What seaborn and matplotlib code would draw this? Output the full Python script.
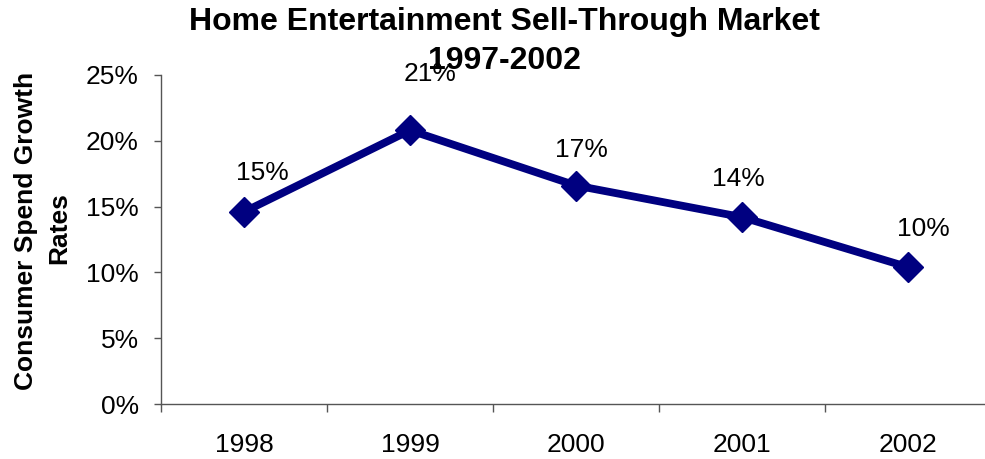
import matplotlib
matplotlib.use("Agg")
import matplotlib.pyplot as plt
import matplotlib.ticker as mticker
import seaborn as sns
import pandas as pd

years = ["1998", "1999", "2000", "2001", "2002"]
growth = [14.6, 20.8, 16.6, 14.2, 10.4]
point_labels = ["15%", "21%", "17%", "14%", "10%"]
y_ticks = [0, 5, 10, 15, 20, 25]

title_lines = ["Home Entertainment Sell-Through Market", "1997-2002"]
ylabel_lines = ["Consumer Spend Growth", "Rates"]

# offsets (px) of the value labels from their markers, Excel-style placement
label_dx = [18, 20, 5, -4, 15]
label_dy = [39, 56, 36, 38, 38]

sns.set_theme(style="white")
plt.rcParams["font.family"] = ["Liberation Sans", "DejaVu Sans"]
plt.rcParams["text.color"] = "black"

df = pd.DataFrame({"year": years, "growth": growth})

fig = plt.figure(figsize=(9.85, 4.59), dpi=100)
ax = fig.add_axes([161 / 985, 1 - 404 / 459, 830 / 985, 329 / 459])

navy = "#000080"
sns.lineplot(data=df, x="year", y="growth", ax=ax, color=navy, linewidth=5.6,
             marker="D", markersize=15, markeredgecolor=navy, markeredgewidth=1,
             sort=False)

ax.set_xlim(-0.5, len(years) - 0.5)
ax.set_ylim(0, 25)
ax.set_yticks(y_ticks)
ax.yaxis.set_major_formatter(mticker.FuncFormatter(lambda v, _: f"{v:.0f}%"))
ax.set_xticks(range(len(years)))
ax.set_xticklabels(years)
ax.set_xticks([i + 0.5 for i in range(-1, len(years))], minor=True)

spine_color = "#555555"
for side in ("top", "right"):
    ax.spines[side].set_visible(False)
for side in ("left", "bottom"):
    ax.spines[side].set_color(spine_color)
    ax.spines[side].set_linewidth(1.0)

ax.tick_params(axis="y", which="major", direction="out", length=5, width=1,
               color=spine_color, labelsize=19, pad=11, left=True,
               labelcolor="black")
ax.tick_params(axis="x", which="major", length=0, labelsize=19, pad=21,
               bottom=True, labelcolor="black")
ax.tick_params(axis="x", which="minor", direction="out", length=6, width=1,
               color=spine_color, bottom=True)
ax.set_xlabel("")
ax.set_ylabel("")

px = 72 / fig.dpi
for i, (val, txt) in enumerate(zip(growth, point_labels)):
    ax.annotate(txt, xy=(i, val), xytext=(label_dx[i] * px, label_dy[i] * px),
                textcoords="offset points", ha="center", va="center",
                fontsize=19, color="black")

fig.text(504 / 985, 1 - 22 / 459, title_lines[0], ha="center", va="center",
         fontsize=23, fontweight="bold", color="black")
fig.text(504 / 985, 1 - 61 / 459, title_lines[1], ha="center", va="center",
         fontsize=23, fontweight="bold", color="black")

fig.text(26 / 985, 1 - 231 / 459, ylabel_lines[0], ha="center", va="center",
         rotation=90, fontsize=19, fontweight="bold", color="black")
fig.text(59 / 985, 1 - 228 / 459, ylabel_lines[1], ha="center", va="center",
         rotation=90, fontsize=19, fontweight="bold", color="black")

fig.savefig("out.png", dpi=100)
